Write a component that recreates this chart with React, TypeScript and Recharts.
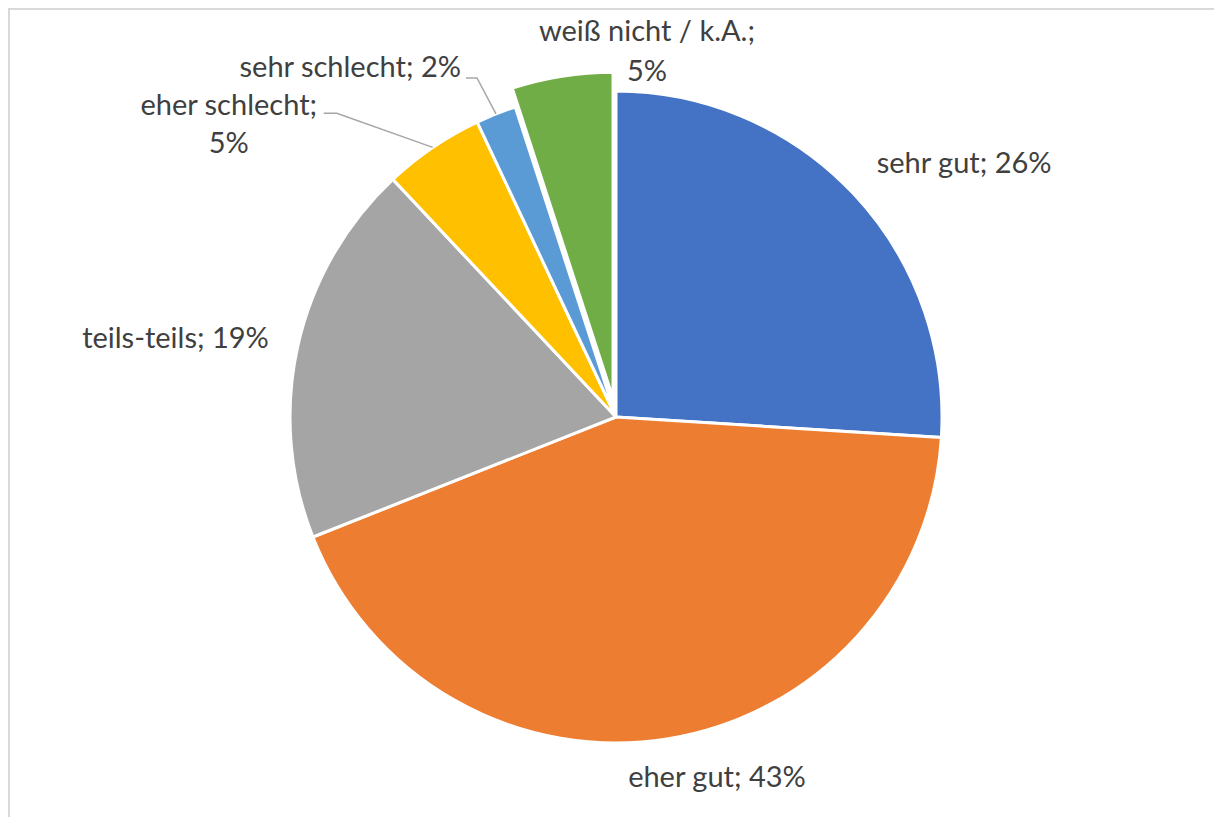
import React from 'react';
import { PieChart, Pie, Cell } from 'recharts';

const categories = ['sehr gut', 'eher gut', 'teils-teils', 'eher schlecht', 'sehr schlecht', 'weiß nicht / k.A.'];
const shares = [26, 43, 19, 5, 2, 5];
const colors = ['#4472C4', '#ED7D31', '#A5A5A5', '#FFC000', '#5B9BD5', '#70AD47'];
const explodedIndex = 5;

const data = categories.map((name, i) => ({ name, value: shares[i] }));

const W = 1214;
const H = 809;
const CX = 608;
const CY = 409;
const R = 326;
const EXPLODE = 19;
const FONT = 'Lato, "Open Sans", sans-serif';
const FONT_SIZE = 29;
const TEXT_COLOR = '#404040';
const LEADER_COLOR = '#A6A6A6';

type Layout = {
  dx: number;
  dy: number;
  anchor: 'start' | 'middle' | 'end';
  split?: boolean;
  gap?: number;
  leader?: number[][];
};

const labelLayout: Layout[] = [
  { dx: 23, dy: -21, anchor: 'start' },
  { dx: 50, dy: 48, anchor: 'middle' },
  { dx: -29, dy: 2, anchor: 'end' },
  { dx: -204, dy: -32, anchor: 'middle', split: true, gap: 38, leader: [[-96, -34], [-109, -34]] },
  { dx: -35, dy: -37, anchor: 'end', leader: [[-19, -36], [-30, -36]] },
  { dx: 85, dy: -35, anchor: 'middle', split: true, gap: 40 },
];

const total = shares.reduce((a, b) => a + b, 0);
const before = shares.slice(0, explodedIndex).reduce((a, b) => a + b, 0);
const explodeAngle = ((before + shares[explodedIndex] / 2) / total) * 2 * Math.PI;
const exDX = Math.sin(explodeAngle) * EXPLODE;
const exDY = -Math.cos(explodeAngle) * EXPLODE;

const RAD = Math.PI / 180;

const makeLabel = (onlyExploded: boolean) => (props: any) => {
  const { cx, cy, midAngle, outerRadius, index } = props;
  const isEx = index === explodedIndex;
  if (onlyExploded !== isEx) return null;
  const px = cx + outerRadius * Math.cos(midAngle * RAD);
  const py = cy - outerRadius * Math.sin(midAngle * RAD);
  const L = labelLayout[index];
  const tx = px + L.dx;
  const ty = py + L.dy;
  const name = categories[index];
  const val = `${shares[index]}%`;
  return (
    <g key={`lbl-${index}`}>
      {L.leader && (
        <polyline
          points={[[px, py], ...L.leader.map(([a, b]) => [px + a, py + b])].map((p) => p.join(',')).join(' ')}
          fill="none"
          stroke={LEADER_COLOR}
          strokeWidth={1.5}
        />
      )}
      {L.split ? (
        <text x={tx} y={ty} textAnchor={L.anchor} fill={TEXT_COLOR} fontSize={FONT_SIZE} fontFamily={FONT}>
          <tspan x={tx} y={ty}>{`${name};`}</tspan>
          <tspan x={tx} y={ty + (L.gap || 38)}>{val}</tspan>
        </text>
      ) : (
        <text x={tx} y={ty} textAnchor={L.anchor} fill={TEXT_COLOR} fontSize={FONT_SIZE} fontFamily={FONT}>
          {`${name}; ${val}`}
        </text>
      )}
    </g>
  );
};

export default function App() {
  return (
    <div style={{ position: 'relative', width: W, height: H, background: '#fff' }}>
      <PieChart width={W} height={H} margin={{ top: 0, right: 0, bottom: 0, left: 0 }}>
        <Pie
          data={data}
          dataKey="value"
          nameKey="name"
          cx={CX}
          cy={CY}
          outerRadius={R}
          startAngle={90}
          endAngle={-270}
          stroke="#ffffff"
          strokeWidth={3}
          isAnimationActive={false}
          label={makeLabel(false)}
          labelLine={false}
        >
          {data.map((d, i) => (
            <Cell
              key={d.name}
              fill={i === explodedIndex ? 'transparent' : colors[i]}
              stroke={i === explodedIndex ? 'none' : '#ffffff'}
            />
          ))}
        </Pie>
        <Pie
          data={data}
          dataKey="value"
          nameKey="name"
          cx={CX + exDX}
          cy={CY + exDY}
          outerRadius={R}
          startAngle={90}
          endAngle={-270}
          stroke="#ffffff"
          strokeWidth={3}
          isAnimationActive={false}
          label={makeLabel(true)}
          labelLine={false}
        >
          {data.map((d, i) => (
            <Cell
              key={d.name}
              fill={i === explodedIndex ? colors[i] : 'transparent'}
              stroke={i === explodedIndex ? '#ffffff' : 'none'}
            />
          ))}
        </Pie>
      </PieChart>
      <div
        style={{
          position: 'absolute',
          left: 0,
          top: 0,
          width: W,
          height: H,
          boxSizing: 'border-box',
          borderTop: '2px solid #d9d9d9',
          borderLeft: '2px solid #d9d9d9',
          pointerEvents: 'none',
        }}
      />
    </div>
  );
}
